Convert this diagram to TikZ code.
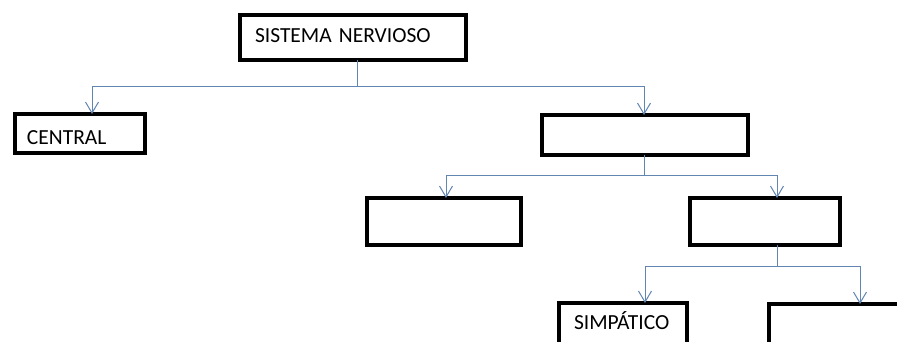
\documentclass[tikz,border=0pt]{standalone}
\usepackage{fontspec}
\setmainfont{Carlito}
\usetikzlibrary{arrows.meta}
\definecolor{linkblue}{RGB}{98,134,178}
\begin{document}
\begin{tikzpicture}[x=1pt,y=-1pt,
  box/.style={draw=black,line width=4pt,rectangle,inner sep=0pt,outer sep=0pt,
    font=\fontsize{21.5}{25}\selectfont,align=left,text depth=0pt},
  link/.style={draw=linkblue,line width=1pt},
  arr/.style={link,-{Straight Barb[length=11pt,width=13pt,line width=1pt]}}]
\clip (0,0) rectangle (897,342);
\fill[white] (0,0) rectangle (897,342);
% boxes
\node[box,minimum width=226pt,minimum height=45pt,text width=196pt,text height=10pt] (top) at (353,37.5) {SISTEMA NERVIOSO};
\node[box,minimum width=130pt,minimum height=39pt,text width=106pt,text height=23pt] (central) at (80,133.5) {CENTRAL};
\node[box,minimum width=206pt,minimum height=40pt] (perif) at (645,135) {};
\node[box,minimum width=154pt,minimum height=47pt] (somat) at (444,221.5) {};
\node[box,minimum width=150pt,minimum height=47pt] (auto) at (765,221.5) {};
\node[box,minimum width=128pt,minimum height=43pt,text width=98pt,text height=9pt] (simp) at (623,324.5) {SIMPÁTICO};
\node[box,minimum width=191pt,minimum height=43pt] (parasimp) at (864.5,325.5) {};
% connectors
\coordinate (j1) at (357,87);
\coordinate (j2) at (644,175);
\coordinate (j3) at (777,266);
\draw[link] (j1 |- top.south) -- (j1);
\draw[arr] (j1) -| ([xshift=12pt]central.north);
\draw[arr] (j1) -| ([xshift=-1pt]perif.north);
\draw[link] (j2 |- perif.south) -- (j2);
\draw[arr] (j2) -| ([xshift=2pt]somat.north);
\draw[arr] (j2) -| ([xshift=12pt]auto.north);
\draw[link] (j3 |- auto.south) -- (j3);
\draw[arr] (j3) -| ([xshift=22pt]simp.north);
\draw[arr] (j3) -| ([xshift=-4.5pt]parasimp.north);
\end{tikzpicture}
\end{document}
